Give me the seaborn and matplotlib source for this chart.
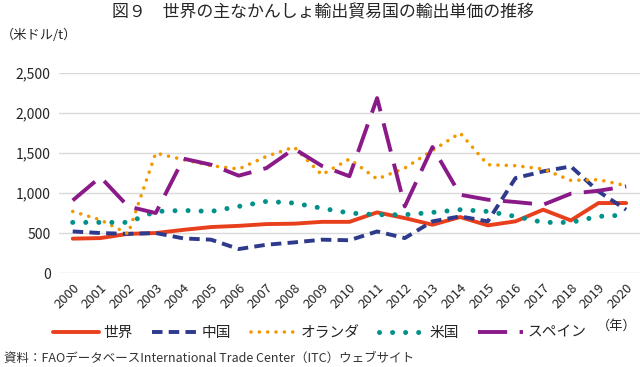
import matplotlib
matplotlib.use('Agg')
import matplotlib.pyplot as plt
import seaborn as sns
import pandas as pd

years = [str(y) for y in range(2000, 2021)]
world = [430, 437, 490, 500, 540, 575, 590, 612, 617, 640, 640, 758, 687, 604, 700, 596, 646, 792, 658, 875, 875]
china = [520, 500, 490, 500, 433, 417, 300, 354, 383, 417, 410, 520, 437, 646, 708, 646, 1187, 1271, 1333, 1020, 792]
netherlands = [770, 665, 490, 1500, 1417, 1342, 1300, 1458, 1575, 1229, 1425, 1175, 1312, 1533, 1750, 1354, 1342, 1300, 1158, 1167, 1092]
usa = [633, 633, 633, 770, 783, 770, 833, 896, 875, 810, 750, 729, 729, 758, 792, 770, 708, 633, 633, 708, 725]
spain = [908, 1200, 833, 750, 1430, 1354, 1217, 1312, 1554, 1340, 1210, 2187, 833, 1575, 979, 917, 888, 854, 992, 1029, 1083]

names = ['世界', '中国', 'オランダ', '米国', 'スペイン']
colors = ['#e8401c', '#2e3a8c', '#f39800', '#00928a', '#8b1a89']

sns.set_style('white')
plt.rcParams['font.family'] = ['Noto Sans CJK JP', 'DejaVu Sans']

fig = plt.figure(figsize=(6.4, 3.67), dpi=100)
ax = fig.add_axes([0.092, 0.256, 0.908, 0.545])

x = list(range(len(years)))
series = [world, china, netherlands, usa, spain]
styles = [
    dict(lw=2.8, linestyle='-'),
    dict(lw=2.8, linestyle=(0, (2.7, 1.6))),
    dict(lw=2.6, linestyle=(0, (0.01, 2.3)), dash_capstyle='round'),
    dict(lw=3.6, linestyle=(0, (0.01, 2.6)), dash_capstyle='round'),
    dict(lw=2.8, linestyle=(0, (7.5, 3.2))),
]
for name, vals, c, st in zip(names, series, colors, styles):
    df = pd.DataFrame({'x': x, 'y': vals})
    sns.lineplot(data=df, x='x', y='y', ax=ax, color=c, label=name, **st)

ax.set_xlim(-0.5, 20.5)
ax.set_ylim(0, 2500)
ax.set_yticks(range(0, 2501, 500))
ax.set_yticklabels([f'{v:,}' for v in range(0, 2501, 500)], fontsize=10)
ax.set_xticks(x)
ax.set_xticklabels(years, rotation=45, ha='right', rotation_mode='anchor', fontsize=9.5)
ax.tick_params(axis='both', length=0, pad=6)
ax.grid(axis='y', color='#d9d9d9', lw=1)
ax.set_axisbelow(True)
for s in ax.spines.values():
    s.set_visible(False)
ax.set_xlabel('')
ax.set_ylabel('')

handles, labels = ax.get_legend_handles_labels()
ax.legend_.remove()
fig.legend(handles, labels, loc='center', bbox_to_anchor=(0.5, 0.093), ncol=5,
           frameon=False, fontsize=10.6, handlelength=3.1, columnspacing=1.3, handletextpad=0.3)

fig.text(0.504, 0.967, '図９　世界の主なかんしょ輸出貿易国の輸出単価の推移', ha='center', va='center', fontsize=12.2)
fig.text(0.002, 0.905, '（米ドル/t）', ha='left', va='center', fontsize=9.5)
fig.text(0.995, 0.112, '（年）', ha='right', va='center', fontsize=9.5)
fig.text(0.007, 0.025, '資料：FAOデータベースInternational Trade Center（ITC）ウェブサイト', ha='left', va='center', fontsize=9, color='#333333')

fig.savefig('out.png', dpi=100)
